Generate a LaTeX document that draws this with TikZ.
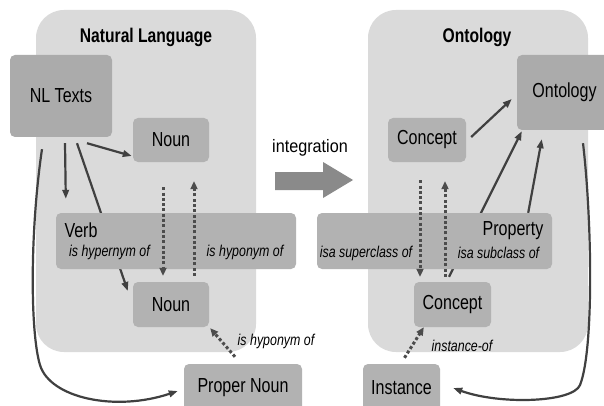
\documentclass[tikz,border=0pt]{standalone}
\usepackage{fontspec}
\setmainfont{Liberation Sans}[FakeStretch=0.79]
\newfontfamily\intfont{Liberation Sans}[FakeStretch=0.9]
\usetikzlibrary{arrows.meta,calc}
\definecolor{panelgray}{HTML}{DADADA}
\definecolor{boxgray}{HTML}{B2B2B2}
\definecolor{bigboxgray}{HTML}{ABABAB}
\definecolor{linegray}{HTML}{404040}
\definecolor{dotgray}{HTML}{4C4C4C}
\definecolor{arrowgray}{HTML}{8A8A8A}
\begin{document}
\begin{tikzpicture}[x=1pt,y=-1pt,
  panel/.style={fill=panelgray,rounded corners=28pt,inner sep=0pt,minimum width=220pt,minimum height=342pt},
  nbox/.style={fill=boxgray,rounded corners=5pt,inner sep=0pt,font=\fontsize{20.3}{23}\selectfont},
  bigbox/.style={nbox,fill=bigboxgray},
  ptitle/.style={font=\fontsize{19.8}{22}\selectfont\bfseries,inner sep=0pt},
  lbl/.style={font=\fontsize{15.7}{18}\selectfont\itshape,inner sep=0pt},
  plain/.style={font=\fontsize{20.3}{23}\selectfont,inner sep=0pt},
  conn/.style={draw=linegray,line width=2.2pt,-{Triangle[length=9pt,width=6.5pt]}},
  dotconn/.style={draw=dotgray,line width=3pt,dash pattern=on 3pt off 2.3pt,-{Triangle[length=8pt,width=7pt]}}
]
\useasboundingbox (0,0) rectangle (604,406);
\fill[white] (0,0) rectangle (604,406);

% panels
\node[panel] (leftpanel) at (146,181) {};
\node[panel] (rightpanel) at (478,181) {};
\node[ptitle] (lefttitle) at (146,37) {Natural Language};
\node[ptitle] (righttitle) at (477,37) {Ontology};

% boxes (first group)
\node[bigbox,minimum width=102pt,minimum height=82pt] (nl) at (61,96) {NL Texts};
\node[nbox,minimum width=76pt,minimum height=44pt] (noun1) at (171,140) {Noun};
\node[nbox,minimum width=76pt,minimum height=45pt] (noun2) at (171,304.5) {Noun};
\node[nbox,minimum width=118pt,minimum height=48pt] (pn) at (243,388) {Proper Noun};
\node[bigbox,minimum width=95pt,minimum height=75pt] (ont) at (564.5,92.5) {Ontology};
\node[nbox,minimum width=78pt,minimum height=44pt] (c1) at (427,140) {Concept};
\node[nbox,minimum width=77pt,minimum height=45pt] (c2) at (452.5,304.5) {Concept};
\node[nbox,minimum width=77pt,minimum height=48pt] (inst) at (401.5,388) {Instance};

% connectors passing behind the wide boxes
\draw[conn] ($(nl.south)+(16,6)$) -- ($(noun2.west)+(-5,-13.5)$);
\draw[conn] ($(c2.north)+(-3.5,-5)$) -- ($(ont.south west)+(5,1)$);

% wide boxes
\node[nbox,minimum width=240pt,minimum height=56pt] (verb) at (176,241) {};
\node[nbox,minimum width=235pt,minimum height=56pt] (prop) at (434.5,241) {};
\node[plain] (verbtxt) at (81,230) {Verb};
\node[lbl] (hyper) at (109.5,252) {is hypernym of};
\node[lbl] (hypo) at (245,252) {is hyponym of};
\node[plain] (proptxt) at (513,231) {Property};
\node[lbl] (super) at (366,253) {isa superclass of};
\node[lbl] (sub) at (498.5,253) {isa subclass of};
\node[lbl] (hypo2) at (276,341) {is hyponym of};
\node[lbl] (instof) at (462,346) {instance-of};

% integration arrow
\node[font=\intfont\fontsize{18}{20}\selectfont,inner sep=0pt] (integ) at (310,148) {integration};
\fill[arrowgray] (275,172) -- (323,172) -- (323,162) -- (353,180) -- (323,198) -- (323,190) -- (275,190) -- cycle;

% solid connectors
\draw[conn] ($(nl.south)+(4,6)$) -- ($(verb.north west)+(10,-14)$);
\draw[conn] ($(nl.south)+(26,6)$) -- ($(noun1.west)+(-1,16)$);
\draw[conn] ($(nl.south)+(-19,12)$) .. controls (30,230) and (30,332) .. (40,365)
   .. controls (50,398) and (115,412) .. ($(pn.west)+(-6,3)$);
\draw[conn] ($(c1.east)+(5,-3)$) -- ($(ont.west)+(-5,6.5)$);
\draw[conn] ($(prop.north east)+(-24,0)$) -- ($(ont.south west)+(25,9)$);
\draw[conn] ($(ont.south)+(18.5,13)$) .. controls (592,220) and (594,350) .. (580,385)
   .. controls (573,402.5) and (500,405) .. ($(inst.east)+(13,0)$);

% dotted connectors
\draw[dotconn] ($(noun1.south)+(-8,25)$) -- ($(noun2.north)+(-8,-6)$);
\draw[dotconn] ($(noun2.north)+(23,-6)$) -- ($(noun1.south)+(23,19)$);
\draw[dotconn] ($(pn.north)+(-8,-7)$) -- ($(noun2.south east)+(1,1)$);
\draw[dotconn] ($(c1.south)+(-7,18)$) -- ($(c2.north)+(-32.5,-5)$);
\draw[dotconn] ($(c2.north)+(-7.5,-5)$) -- ($(c1.south)+(18,19)$);
\draw[dotconn] ($(inst.north)+(3,-6)$) -- ($(c2.south west)+(10,0)$);
\end{tikzpicture}
\end{document}
